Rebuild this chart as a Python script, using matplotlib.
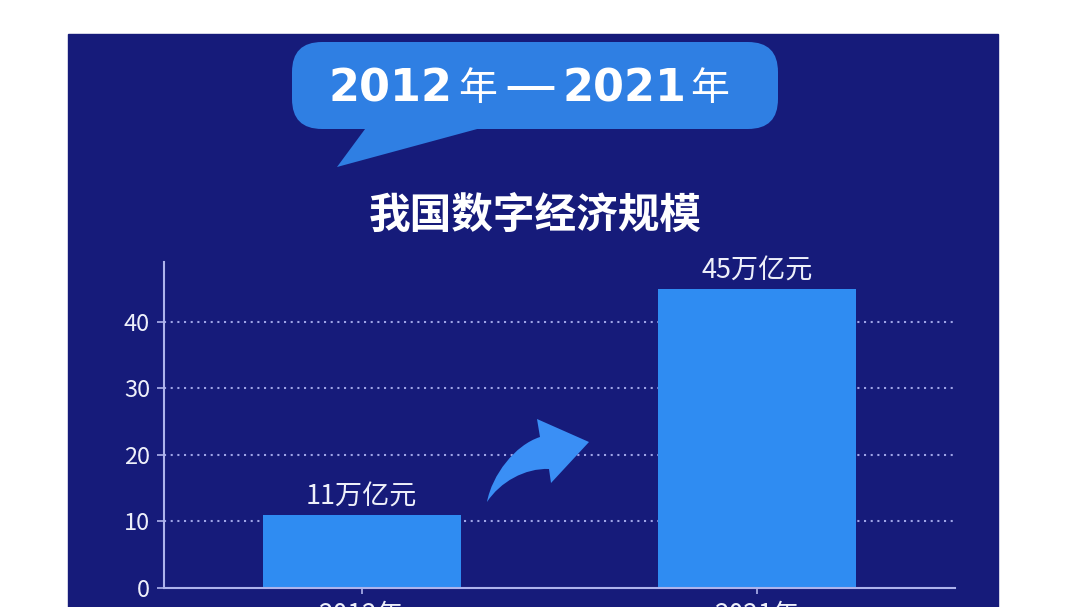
import matplotlib
matplotlib.use("Agg")
import matplotlib.pyplot as plt
from matplotlib.patches import Rectangle, FancyBboxPatch, Polygon, PathPatch
from matplotlib.path import Path

plt.rcParams['font.family'] = ['Noto Sans CJK SC', 'DejaVu Sans']

# Data
years = ["2012年", "2021年"]
values = [11, 45]
value_labels = ["11万亿元", "45万亿元"]
yticks = [0, 10, 20, 30, 40]
period_parts = ["2012", "年", "—", "2021", "年"]

panel_color = "#161b7a"
bubble_color = "#2f7fe3"
bar_color = "#2f8cf2"
axis_color = "#aeb3ec"
grid_color = "#9ea4e6"
text_color = "#eef0fa"

fig = plt.figure(figsize=(10.8, 6.07), dpi=100)
fig.patch.set_facecolor("white")

# background layer in pixel coordinates
bg = fig.add_axes([0, 0, 1, 1], zorder=0)
bg.set_xlim(0, 1080)
bg.set_ylim(607, 0)
bg.axis("off")

bg.add_patch(Rectangle((68, 34), 930, 590, color=panel_color))

# speech bubble
bg.add_patch(FancyBboxPatch((292, 42), 486, 87,
                            boxstyle="round,pad=0,rounding_size=30",
                            color=bubble_color, lw=0))
bg.add_patch(Polygon([(368, 125), (337, 167), (492, 125)], closed=True,
                     color=bubble_color, lw=0))

# "2012年—2021年" placed piece by piece (wide display digits)
part_x = [391, 478, 530, 624, 710]
part_size = {"年": 28, "—": 42}
for txt, px in zip(period_parts, part_x):
    if txt.isdigit():
        bg.text(px, 89, txt, color="white", fontsize=32, fontweight="bold",
                family="DejaVu Sans", ha="center", va="center")
    else:
        bg.text(px, 89, txt, color="white", fontsize=part_size[txt],
                ha="center", va="center")

bg.text(535, 217, "我国数字经济规模", color="white", fontsize=30,
        fontweight="bold", ha="center", va="center")

# chart
ax = fig.add_axes([164 / 1080, 1 - 588 / 607, (955 - 164) / 1080, (588 - 262) / 607],
                  zorder=1)
ax.set_facecolor("none")

x = list(range(len(years)))
bars = ax.bar(x, values, width=0.5, color=bar_color, zorder=2)
ax.bar_label(bars, labels=value_labels, padding=3, fontsize=19.5, color=text_color)

ax.set_xlim(-0.5, 1.5)
ax.set_ylim(0, 49)
ax.set_yticks(yticks)
ax.set_xticks(x)
ax.set_xticklabels(years)

for y in yticks[1:]:
    ax.axhline(y, color=grid_color, lw=1.5, linestyle=(0, (1, 2.2)), zorder=1)

for s in ["top", "right"]:
    ax.spines[s].set_visible(False)
for s in ["left", "bottom"]:
    ax.spines[s].set_color(axis_color)
    ax.spines[s].set_linewidth(1.5)

ax.tick_params(axis="y", colors=axis_color, labelcolor=text_color,
               labelsize=17, length=5, width=1.2, pad=5)
ax.tick_params(axis="x", colors=axis_color, labelcolor=text_color,
               labelsize=19, length=4, width=1.2, pad=6)

# curved arrow between the bars (pixel coordinates)
verts = [(487, 502),
         (492, 475), (515, 445), (540, 437),
         (537, 419),
         (589, 442),
         (551, 483),
         (549, 469),
         (525, 468), (500, 482), (487, 502),
         (487, 502)]
codes = [Path.MOVETO,
         Path.CURVE4, Path.CURVE4, Path.CURVE4,
         Path.LINETO, Path.LINETO, Path.LINETO, Path.LINETO,
         Path.CURVE4, Path.CURVE4, Path.CURVE4,
         Path.CLOSEPOLY]
ax.add_patch(PathPatch(Path(verts, codes), color="#3a8ff5", lw=0,
                       transform=bg.transData, clip_on=False, zorder=3))

fig.savefig("out.png", dpi=100)
